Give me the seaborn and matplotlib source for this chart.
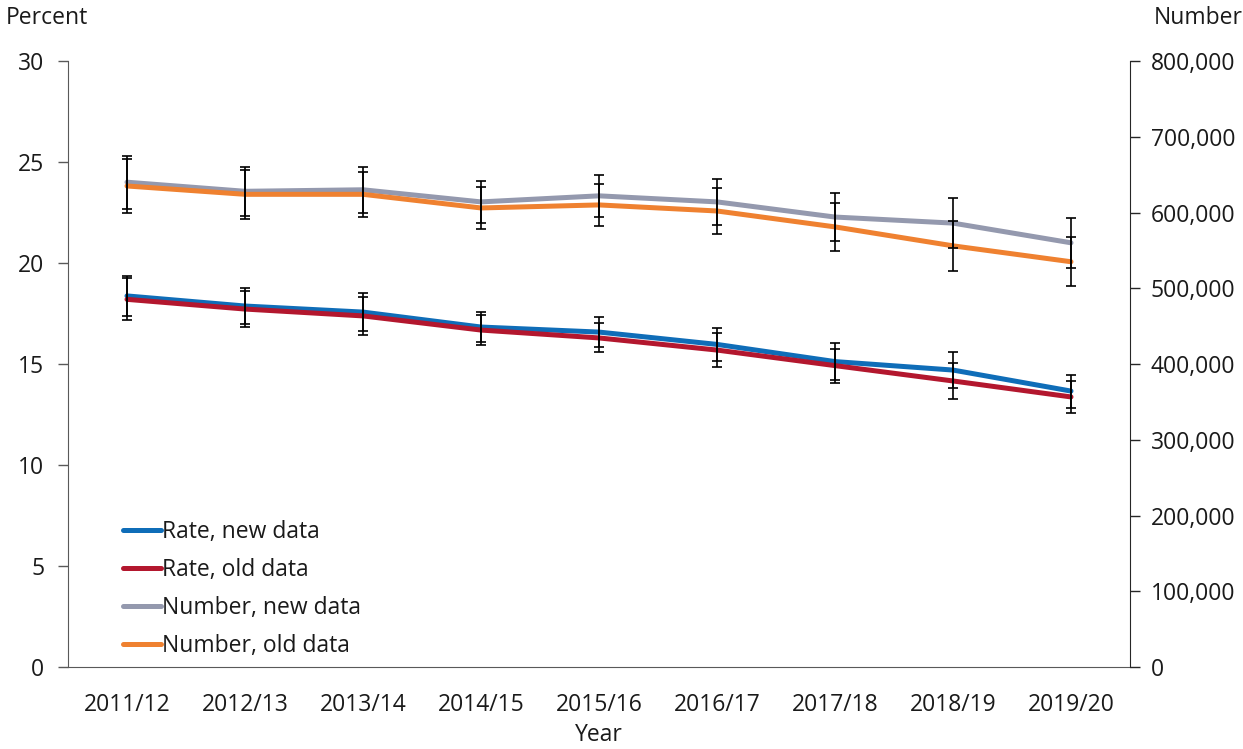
import numpy as np
import pandas as pd
import matplotlib
matplotlib.use("Agg")
import matplotlib.pyplot as plt
import seaborn as sns
from matplotlib.ticker import FuncFormatter

# values
years = ["2011/12", "2012/13", "2013/14", "2014/15", "2015/16",
         "2016/17", "2017/18", "2018/19", "2019/20"]

rate_new = [18.37, 17.87, 17.57, 16.83, 16.58, 15.97, 15.12, 14.70, 13.66]
rate_new_err = [1.00, 0.89, 0.94, 0.72, 0.74, 0.82, 0.92, 0.87, 0.82]
rate_old = [18.20, 17.72, 17.38, 16.68, 16.29, 15.69, 14.92, 14.16, 13.37]
rate_old_err = [1.04, 0.89, 0.94, 0.76, 0.72, 0.84, 0.84, 0.87, 0.79]

num_new = [640000, 628000, 630000, 614000, 622000, 614000, 594000, 586000, 560000]
num_new_err = [35000, 32000, 30000, 28000, 28000, 30000, 32000, 33000, 33000]
num_old = [635000, 624000, 624000, 606000, 610000, 602000, 581000, 556000, 535000]
num_old_err = [35000, 32000, 30000, 28000, 28000, 30000, 32000, 33000, 32000]

labels = ["Rate, new data", "Rate, old data", "Number, new data", "Number, old data"]
colors = ["#0f6db8", "#b3172e", "#9499ae", "#ef8130"]

FS = 16.5

sns.set_style("white")
plt.rcParams["font.family"] = ["Open Sans", "DejaVu Sans"]
plt.rcParams["text.color"] = "#1a1a1a"
plt.rcParams["axes.labelcolor"] = "#1a1a1a"
plt.rcParams["xtick.color"] = "#1a1a1a"
plt.rcParams["ytick.color"] = "#1a1a1a"

pos = list(range(len(years)))
rate_df = pd.DataFrame({
    "pos": pos * 2,
    "value": rate_new + rate_old,
    "series": [labels[0]] * len(years) + [labels[1]] * len(years),
})
num_df = pd.DataFrame({
    "pos": pos * 2,
    "value": num_new + num_old,
    "series": [labels[2]] * len(years) + [labels[3]] * len(years),
})

fig = plt.figure(figsize=(12.43, 7.49), dpi=100)
ax = fig.add_axes([68 / 1243, 1 - 667 / 749, (1130 - 68) / 1243, (667 - 61) / 749])
ax2 = ax.twinx()

sns.lineplot(data=rate_df, x="pos", y="value", hue="series",
             palette=dict(zip(labels[:2], colors[:2])), linewidth=3.6,
             legend=False, ax=ax)
sns.lineplot(data=num_df, x="pos", y="value", hue="series",
             palette=dict(zip(labels[2:], colors[2:])), linewidth=3.6,
             legend=False, ax=ax2)

# error bars drawn over the lines
for vals, errs in [(rate_new, rate_new_err), (rate_old, rate_old_err)]:
    ax.errorbar(pos, vals, yerr=errs, fmt="none", ecolor="black",
                elinewidth=1.2, capsize=3.5, capthick=1.2, zorder=5)
for vals, errs in [(num_new, num_new_err), (num_old, num_old_err)]:
    ax2.errorbar(pos, vals, yerr=errs, fmt="none", ecolor="black",
                 elinewidth=1.2, capsize=3.5, capthick=1.2, zorder=5)

ax.set_xlim(-0.5, len(years) - 0.5)
ax.set_ylim(0, 30)
ax.set_yticks(range(0, 31, 5))
ax2.set_ylim(0, 800000)
ax2.set_yticks(range(0, 800001, 100000))
ax2.yaxis.set_major_formatter(FuncFormatter(lambda v, p: f"{int(v):,}"))

ax.set_xticks(pos)
ax.set_xticklabels(years)
ax.tick_params(axis="x", length=0, pad=19, labelsize=FS)
ax.tick_params(axis="y", direction="out", length=7, width=1, pad=10,
               labelsize=FS, left=True, color="#595959")
ax2.tick_params(axis="y", direction="out", length=7, width=1, pad=8,
                labelsize=FS, right=True, color="#262626")

ax.set_xlabel("Year", fontsize=FS, labelpad=4)
ax.set_ylabel("")
ax2.set_ylabel("")

for a in (ax, ax2):
    a.spines["top"].set_visible(False)
    a.grid(False)
ax.spines["left"].set_color("#595959")
ax.spines["bottom"].set_color("#595959")
ax.spines["right"].set_visible(False)
ax2.spines["left"].set_visible(False)
ax2.spines["bottom"].set_visible(False)
ax2.spines["right"].set_color("#262626")

fig.text(6 / 1243, 1 - 18 / 749, "Percent", fontsize=FS, va="center", ha="left")
fig.text(1154 / 1243, 1 - 18 / 749, "Number", fontsize=FS, va="center", ha="left")

handles = ax.get_lines()[:2] + ax2.get_lines()[:2]
ax2.legend(handles, labels, loc="lower left", bbox_to_anchor=(0.032, -0.02),
           frameon=False, fontsize=FS, handlelength=1.66, handletextpad=0.08,
           labelspacing=0.62)

fig.savefig("out.png", dpi=100)
